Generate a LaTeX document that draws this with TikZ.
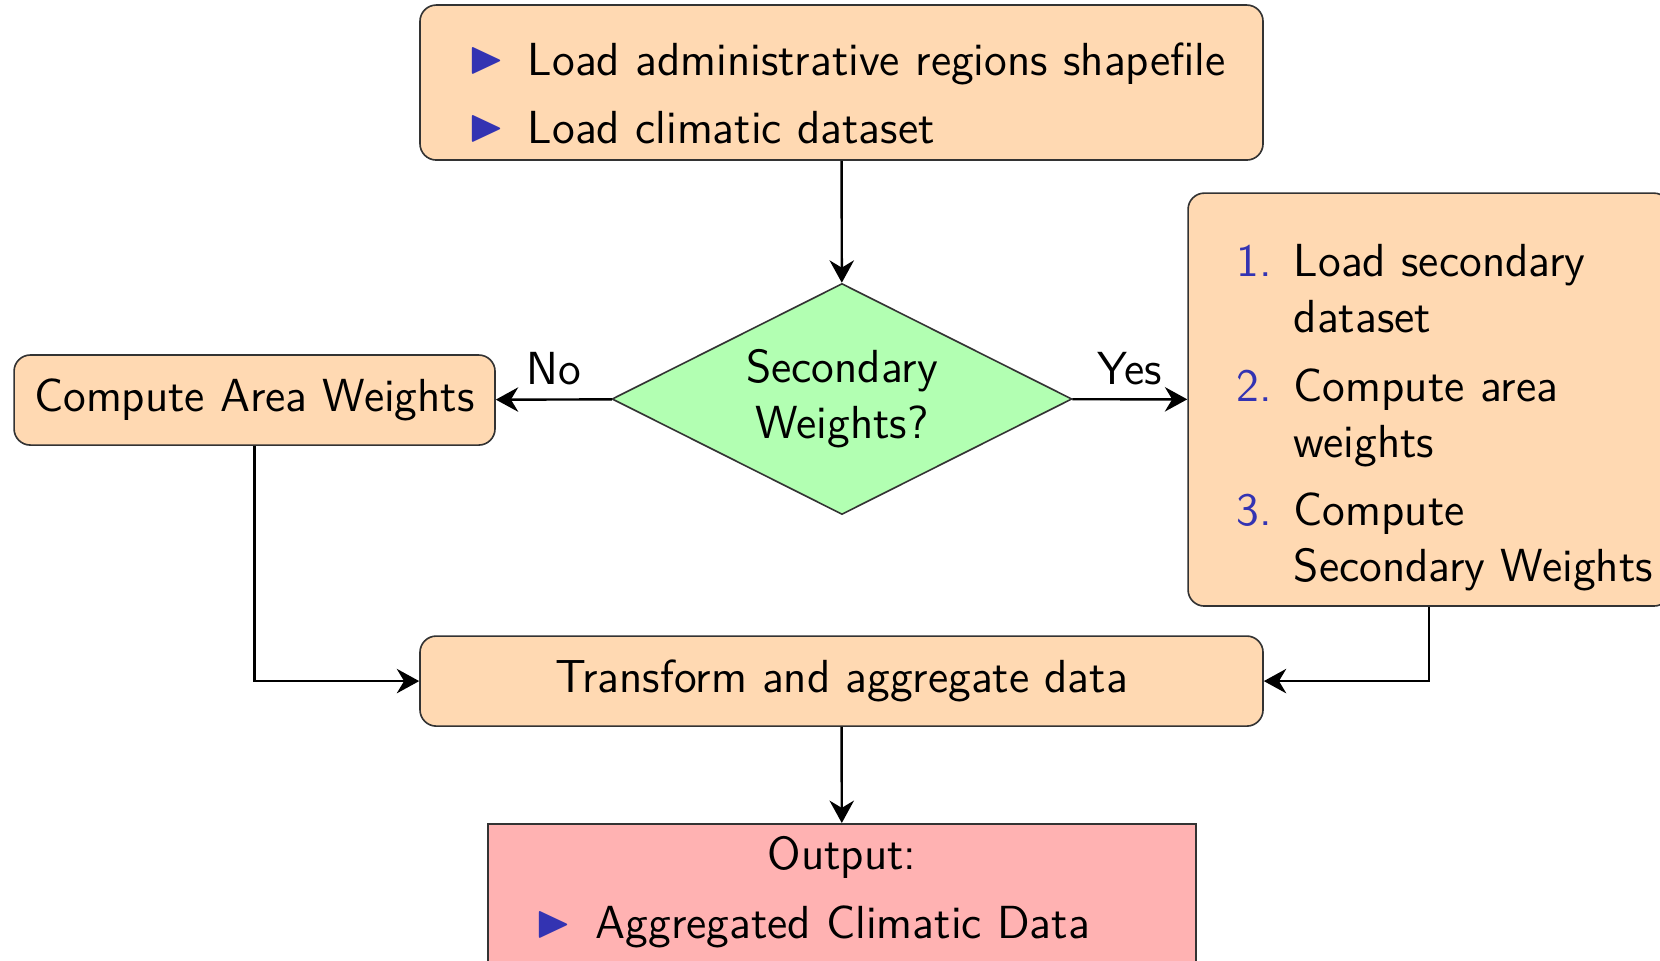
\documentclass[tikz,border=0pt]{standalone}
\usepackage{fontspec}
\usepackage{amssymb}
\usetikzlibrary{arrows,shapes.geometric}
\usetikzlibrary{arrows.meta,positioning}

\definecolor{structblue}{rgb}{0.2,0.2,0.7}
\newcommand{\tri}{\makebox[13.7pt][l]{\hspace{-1pt}\textcolor{structblue}{\raisebox{0.6pt}{$\blacktriangleright$}}}}
\newcommand{\num}[1]{\makebox[14pt][l]{\textcolor{structblue}{#1.}}}
\newcommand{\cont}{\hspace*{14pt}}

\begin{document}
\begin{tikzpicture}[font=\fontsize{11.4}{13.7}\selectfont\sffamily,
	block/.style={rectangle, rounded corners=4pt, draw=black!80, fill=orange!30, inner sep=0pt},
	listblock/.style={block, align=left, inner xsep=12.8pt, inner ysep=0pt},
	decision/.style={diamond, aspect=2, draw=black!80, fill=green!30, inner sep=1pt, align=center,
		minimum width=3.974cm, minimum height=1.996cm},
	outbox/.style={rectangle, draw=black!80, fill=red!30, align=left, inner xsep=12.8pt, inner ysep=0pt},
	line/.style={semithick, -{Stealth[length=5.5pt,width=6pt]}}]
		\clip (0,0) rectangle (14.341,8.294);

		% list boxes: text height/depth fix where the first line sits
		\node[listblock, text width=7.283cm-25.6pt, text height=17.3pt, text depth=20.8pt] (load) at (7.270,7.581)
			{\mbox{\tri Load administrative regions shapefile}\\[3.0pt]\mbox{\tri Load climatic dataset}};
		\node[decision] (choice) at (7.274,4.847) {Secondary\\Weights?};
		\node[block, minimum width=4.155cm, minimum height=0.778cm] (area) at (2.199,4.838) {Compute Area Weights};
		\node[listblock, inner xsep=12pt, text width=4.164cm-24pt, text height=20.6pt, text depth=80.9pt]
			(second) at (12.346,4.842) {\mbox{\num{1}Load secondary}\\\mbox{\cont dataset}\\[3.2pt]
			\mbox{\num{2}Compute area}\\\mbox{\cont weights}\\[3.2pt]
			\mbox{\num{3}Compute}\\\mbox{\cont Secondary Weights}};
		\node[block, minimum width=7.283cm, minimum height=0.778cm] (merge) at (7.270,2.410) {Transform and aggregate data};
		\node[outbox, anchor=north, text width=6.117cm-25.6pt, text height=11.3pt, text depth=34pt] (out) at (7.274,1.184)
			{\makebox[\linewidth]{Output:}\\[3.2pt]\mbox{\tri Aggregated Climatic Data}};

		\draw[line] (load) -- (choice);
		\draw[line] (choice) -- node[above] {No} (area);
		\draw[line] (choice) -- node[above] {Yes} (second);
		\draw[line] (area) |- (merge);
		\draw[line] (second) |- (merge);
		\draw[line] (merge) -- (out);
	\end{tikzpicture}
\end{document}
